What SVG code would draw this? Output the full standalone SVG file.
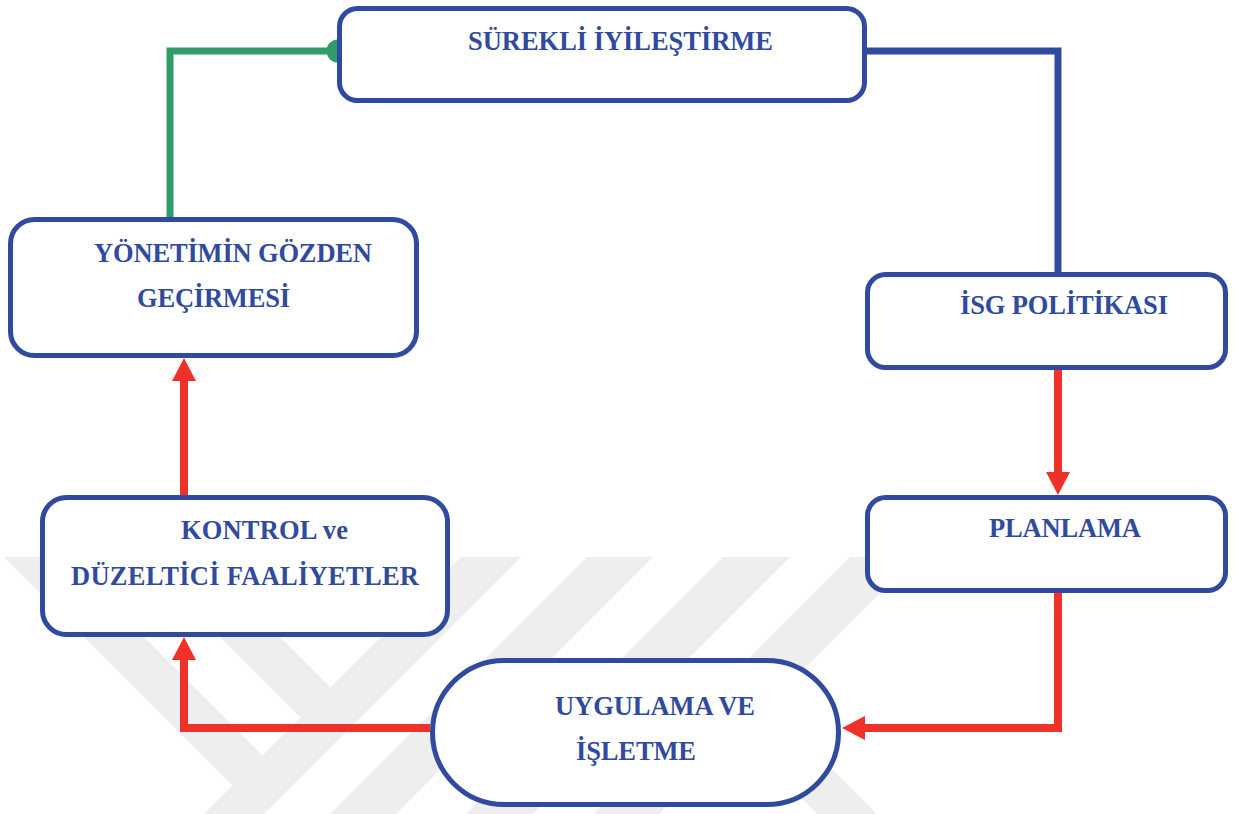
<svg xmlns="http://www.w3.org/2000/svg" width="1240" height="814" viewBox="0 0 1240 814">
  <style>
    .box { fill: #ffffff; stroke: #2f4a9e; stroke-width: 5; }
    .lbl { font-family: "Liberation Serif", "Times New Roman", serif; font-weight: bold; font-size: 26.5px; fill: #2f4a9e; }
    .red { fill: none; stroke: #ee3129; stroke-width: 8; }
    .wm { fill: #eeeeee; }
  </style>
  <defs>
    <marker id="arrowRed" markerUnits="userSpaceOnUse" markerWidth="24" markerHeight="24" refX="0" refY="12" orient="auto" viewBox="0 0 24 24">
      <path d="M0,0 L23,12 L0,24 Z" fill="#ee3129"/>
    </marker>
  </defs>
  <rect width="1240" height="814" fill="#ffffff"/>

  <g id="watermark">
    <polygon class="wm" points="4,557 64,557 262.5,755.5 232.5,785.5"/>
    <polygon class="wm" points="140,557 200,557 330.5,687.5 300.5,717.5"/>
    <polygon class="wm" points="461,557 521,557 264,814 204,814"/>
    <polygon class="wm" points="587,557 653,557 396,814 330,814"/>
    <polygon class="wm" points="723,557 790,557 533,814 466,814"/>
    <polygon class="wm" points="850,557 916,557 659,814 593,814"/>
    <polygon class="wm" points="693,690 753,690 877,814 817,814"/>
  </g>

  <g id="connectors">
    <path d="M866,51 H1058 V272" fill="none" stroke="#2f4a9e" stroke-width="7"/>
    <path d="M170,218 V51 H338" fill="none" stroke="#319b6c" stroke-width="7"/>
    <circle cx="338" cy="51" r="11.5" fill="#319b6c"/>
    <path class="red" d="M1058,370 V472" marker-end="url(#arrowRed)"/>
    <path class="red" d="M1058,593 V728 H865" marker-end="url(#arrowRed)"/>
    <path class="red" d="M430,728 H184 V660" marker-end="url(#arrowRed)"/>
    <path class="red" d="M184,495 V381" marker-end="url(#arrowRed)"/>
  </g>

  <g id="node-surekli">
    <rect class="box" x="339.5" y="8.5" width="525" height="92" rx="18"/>
    <text class="lbl" x="468" y="50" textLength="305">SÜREKLİ İYİLEŞTİRME</text>
  </g>
  <g id="node-isg">
    <rect class="box" x="867.5" y="274.5" width="358" height="93" rx="18"/>
    <text class="lbl" x="960" y="314" textLength="208">İSG POLİTİKASI</text>
  </g>
  <g id="node-planlama">
    <rect class="box" x="867.5" y="497.5" width="358" height="93" rx="18"/>
    <text class="lbl" x="989" y="537" textLength="152">PLANLAMA</text>
  </g>
  <g id="node-uygulama">
    <rect class="box" x="432.5" y="660.5" width="406" height="144" rx="72"/>
    <text class="lbl" x="555" y="715" textLength="200">UYGULAMA VE</text>
    <text class="lbl" x="576" y="760" textLength="120">İŞLETME</text>
  </g>
  <g id="node-kontrol">
    <rect class="box" x="42.5" y="497.5" width="405" height="137" rx="24"/>
    <text class="lbl" x="181" y="539" textLength="167">KONTROL ve</text>
    <text class="lbl" x="71" y="585" textLength="348">DÜZELTİCİ FAALİYETLER</text>
  </g>
  <g id="node-yonetim">
    <rect class="box" x="10.5" y="219.5" width="406" height="136" rx="24"/>
    <text class="lbl" x="94" y="262" textLength="278">YÖNETİMİN GÖZDEN</text>
    <text class="lbl" x="137" y="307" textLength="153">GEÇİRMESİ</text>
  </g>
</svg>
